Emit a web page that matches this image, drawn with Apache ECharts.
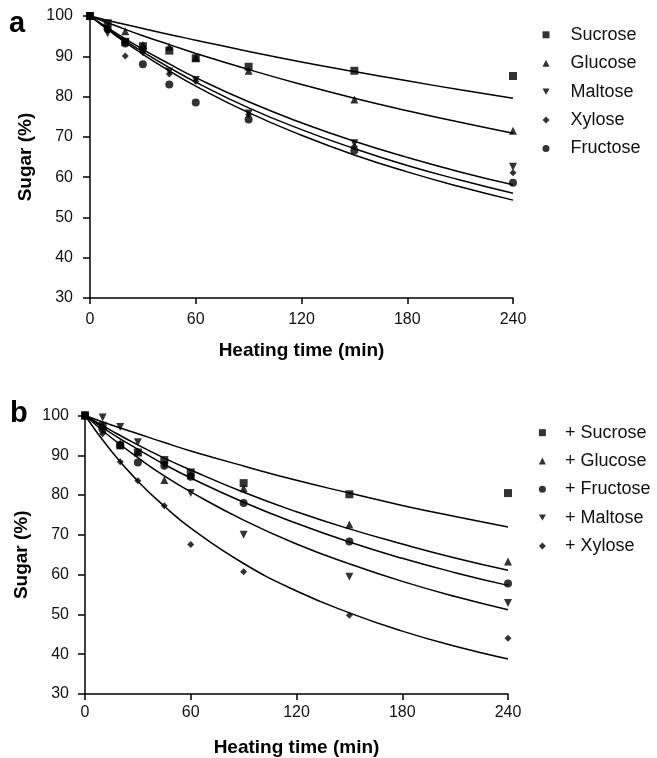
<!DOCTYPE html>
<html>
<head>
<meta charset="utf-8">
<script src="https://cdn.jsdelivr.net/npm/echarts@6/dist/echarts.min.js"></script>
<style>
html,body{margin:0;padding:0;background:#fff;}
#chart{width:657px;height:758px;}
</style>
</head>
<body>
<div id="chart"></div>
<script>
// ---- Data ----
const pointTimes = [0, 10, 20, 30, 45, 60, 90, 150, 240];
const fitTimes = [0, 15, 30, 45, 60, 90, 120, 150, 180, 210, 240];
const xTicks = [0, 60, 120, 180, 240];
const yTicks = [30, 40, 50, 60, 70, 80, 90, 100];

// Panel a: sugars heated alone
const aNames = ['Sucrose', 'Glucose', 'Maltose', 'Xylose', 'Fructose'];
const aSucrose  = [100, 98.2, 93.6, 92.5, 91.4, 89.5, 87.4, 86.4, 85.1];
const aGlucose  = [100, 97.5, 96.2, 92.8, 92.4, 89.7, 86.4, 79.3, 71.5];
const aMaltose  = [100, 95.7, 93.5, 91.0, 86.2, 84.1, 75.8, 68.4, 62.6];
const aXylose   = [100, 96.5, 90.1, 91.0, 85.6, 83.8, 75.5, 67.6, 61.1];
const aFructose = [100, 96.8, 93.2, 88.0, 83.0, 78.5, 74.3, 66.6, 58.6];
// fitted curves
const aSucroseFit  = [100, 98.4, 96.9, 95.4, 94.0, 91.2, 88.6, 86.2, 83.9, 81.7, 79.6];
const aGlucoseFit  = [100, 97.5, 95.1, 92.9, 90.7, 86.7, 83.0, 79.6, 76.5, 73.6, 70.9];
const aMaltoseFit  = [100, 95.7, 91.7, 88.1, 84.7, 78.7, 73.5, 68.9, 64.9, 61.3, 58.1];
const aXyloseFit   = [100, 95.3, 91.1, 87.2, 83.6, 77.2, 71.8, 67.1, 62.9, 59.3, 56.0];
const aFructoseFit = [100, 95.0, 90.5, 86.4, 82.6, 76.0, 70.4, 65.5, 61.3, 57.6, 54.3];

// Panel b: sugar mixtures
const bNames = ['+ Sucrose', '+ Glucose', '+ Fructose', '+ Maltose', '+ Xylose'];
const bSucrose  = [100, 97.4, 92.5, 90.7, 88.8, 85.7, 83.0, 80.2, 80.5];
const bGlucose  = [100, 97.5, 93.0, 91.0, 83.8, 85.0, 81.7, 72.6, 63.3];
const bFructose = [100, 96.5, 92.5, 88.2, 87.4, 84.6, 78.0, 68.3, 57.8];
const bMaltose  = [100, 99.5, 97.1, 93.3, 87.5, 80.5, 70.0, 59.5, 52.9];
const bXylose   = [100, 95.4, 88.4, 83.6, 77.3, 67.6, 60.7, 49.8, 44.0];
const bSucroseFit  = [100, 97.6, 95.4, 93.2, 91.1, 87.3, 83.7, 80.5, 77.4, 74.6, 72.0];
const bGlucoseFit  = [100, 96.2, 92.6, 89.3, 86.3, 80.7, 75.8, 71.5, 67.7, 64.2, 61.1];
const bFructoseFit = [100, 95.5, 91.5, 87.7, 84.3, 78.2, 72.9, 68.2, 64.1, 60.5, 57.3];
const bMaltoseFit  = [100, 94.4, 89.4, 84.8, 80.8, 73.7, 67.7, 62.7, 58.3, 54.5, 51.2];
const bXyloseFit   = [100, 91.0, 83.5, 77.2, 71.7, 62.8, 55.9, 50.4, 45.8, 42.0, 38.8];

// ---- Styles ----
const FONT = "'Liberation Sans', Arial, Helvetica, sans-serif";
const DOWN_TRI = 'path://M0,0L10,0L5,9Z';
const markers = {
  Sucrose:  {symbol: 'rect', size: 8},
  Glucose:  {symbol: 'triangle', size: 8},
  Maltose:  {symbol: DOWN_TRI, size: 8},
  Xylose:   {symbol: 'diamond', size: 7},
  Fructose: {symbol: 'circle', size: 8}
};

function pairs(xs, ys) { return xs.map((x, i) => [x, ys[i]]); }

function scatterSeries(name, key, vals, gi) {
  const m = markers[key];
  return {
    type: 'scatter', name: name, xAxisIndex: gi, yAxisIndex: gi,
    symbol: m.symbol, symbolSize: m.size,
    itemStyle: {color: '#000'}, data: pairs(pointTimes, vals), z: 3
  };
}
function fitSeries(name, vals, gi) {
  return {
    type: 'line', name: name, xAxisIndex: gi, yAxisIndex: gi,
    smooth: true, showSymbol: false, symbol: 'none',
    lineStyle: {color: '#000', width: 1.5}, data: pairs(fitTimes, vals), z: 2
  };
}

function xAxis(gi, margin, gap) {
  return {
    type: 'value', gridIndex: gi, min: 0, max: 240, interval: 60,
    name: 'Heating time (min)', nameLocation: 'middle', nameGap: gap,
    nameTextStyle: {fontFamily: FONT, fontSize: 19, fontWeight: 'bold', color: '#000'},
    axisLine: {show: true, lineStyle: {color: '#000', width: 1.5}},
    axisTick: {show: true, inside: false, length: 6, lineStyle: {color: '#000', width: 1.5}},
    axisLabel: {fontFamily: FONT, fontSize: 16, color: '#111', margin: margin},
    splitLine: {show: false}
  };
}
function yAxis(gi, margin, gap) {
  return {
    type: 'value', gridIndex: gi, min: 30, max: 100, interval: 10,
    name: 'Sugar (%)', nameLocation: 'middle', nameGap: gap,
    nameTextStyle: {fontFamily: FONT, fontSize: 19, fontWeight: 'bold', color: '#000'},
    axisLine: {show: true, lineStyle: {color: '#000', width: 1.5}},
    axisTick: {show: true, inside: false, length: 7, lineStyle: {color: '#000', width: 1.5}},
    axisLabel: {fontFamily: FONT, fontSize: 16, color: '#111', margin: margin},
    splitLine: {show: false}
  };
}

const aKeys = ['Sucrose', 'Glucose', 'Maltose', 'Xylose', 'Fructose'];
const aVals = [aSucrose, aGlucose, aMaltose, aXylose, aFructose];
const aFits = [aSucroseFit, aGlucoseFit, aMaltoseFit, aXyloseFit, aFructoseFit];
const bKeys = ['Sucrose', 'Glucose', 'Fructose', 'Maltose', 'Xylose'];
const bVals = [bSucrose, bGlucose, bFructose, bMaltose, bXylose];
const bFits = [bSucroseFit, bGlucoseFit, bFructoseFit, bMaltoseFit, bXyloseFit];

const series = [];
aNames.forEach((n, i) => {
  series.push(fitSeries(n + ' fit', aFits[i], 0));
  series.push(scatterSeries(n, aKeys[i], aVals[i], 0));
});
bNames.forEach((n, i) => {
  series.push(fitSeries(n + ' fit', bFits[i], 1));
  series.push(scatterSeries(n, bKeys[i], bVals[i], 1));
});

function legendData(names, keys) {
  return names.map((n, i) => ({name: n, icon: markers[keys[i]].symbol}));
}

const chart = echarts.init(document.getElementById('chart'), null, {renderer: 'canvas'});
chart.setOption({
  animation: false,
  backgroundColor: '#fff',
  grid: [
    {left: 90, top: 16, width: 423, height: 282},
    {left: 85, top: 415.5, width: 423, height: 281}
  ],
  xAxis: [xAxis(0, 14, 43), xAxis(1, 11, 44)],
  yAxis: [yAxis(0, 17, 52), yAxis(1, 16, 53)],
  legend: [
    {
      orient: 'vertical', left: 537.5, top: 20.8, itemWidth: 7, itemHeight: 7, itemGap: 10.4,
      selectedMode: false, data: legendData(aNames, aKeys),
      itemStyle: {color: '#000'},
      textStyle: {fontFamily: FONT, fontSize: 18, lineHeight: 18, color: '#111', padding: [0, 0, 0, 16]}
    },
    {
      orient: 'vertical', left: 533.9, top: 418.7, itemWidth: 7, itemHeight: 7, itemGap: 10.3,
      selectedMode: false, data: legendData(bNames, bKeys),
      itemStyle: {color: '#000'},
      textStyle: {fontFamily: FONT, fontSize: 18, lineHeight: 18, color: '#111', padding: [0, 0, 0, 14]}
    }
  ],
  graphic: [
    {type: 'text', left: 9, top: 9, style: {text: 'a', fontFamily: FONT, fontSize: 29, fontWeight: 'bold', fill: '#000'}},
    {type: 'text', left: 10, top: 399, style: {text: 'b', fontFamily: FONT, fontSize: 29, fontWeight: 'bold', fill: '#000'}}
  ],
  series: series
});
</script>
</body>
</html>
